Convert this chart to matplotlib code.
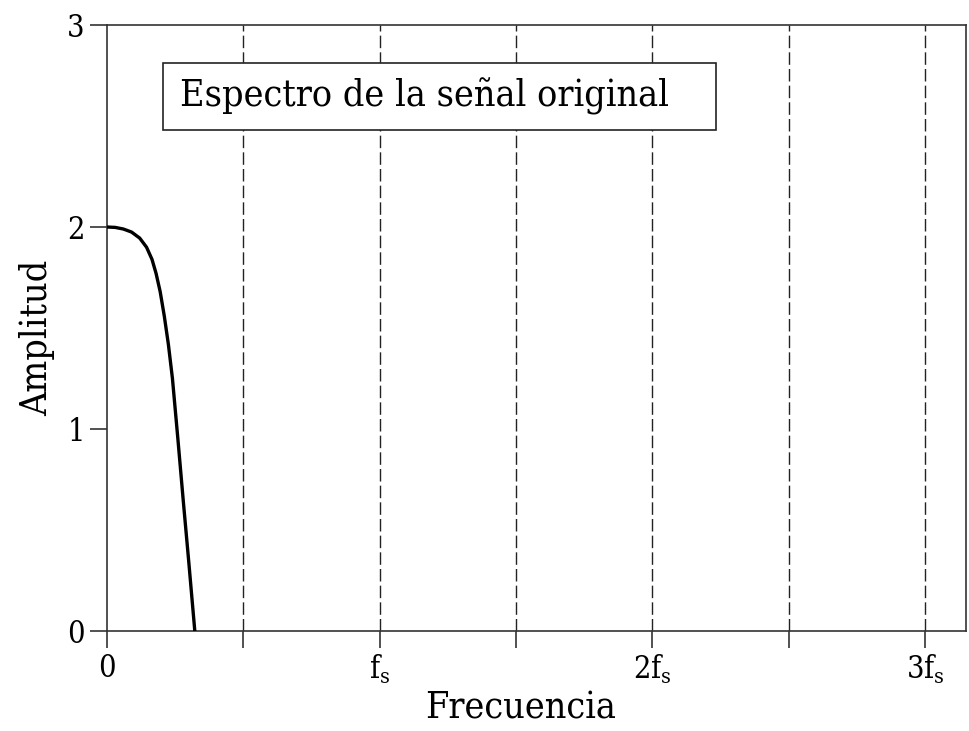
import matplotlib
matplotlib.use("Agg")
import matplotlib.pyplot as plt
from matplotlib.patches import Rectangle

# spectrum of the original signal (frequency in units of fs)
freq = [0.0, 0.03, 0.06, 0.09, 0.12, 0.145, 0.165, 0.18, 0.195, 0.21, 0.225, 0.24, 0.26, 0.28, 0.30, 0.322]
amp = [2.0, 1.998, 1.99, 1.975, 1.945, 1.9, 1.84, 1.77, 1.68, 1.56, 1.42, 1.25, 0.95, 0.64, 0.34, 0.0]

xticks = [0, 0.5, 1, 1.5, 2, 2.5, 3]
xtick_labels = ["0", "", r"$\mathrm{f_s}$", "", r"$\mathrm{2f_s}$", "", r"$\mathrm{3f_s}$"]
yticks = [0, 1, 2, 3]
dashed_at = [0.5, 1, 1.5, 2, 2.5, 3]

plt.rcParams["font.family"] = "DejaVu Serif"
plt.rcParams["font.stretch"] = "condensed"
plt.rcParams["mathtext.fontset"] = "custom"
plt.rcParams["mathtext.rm"] = "DejaVu Serif:stretch=condensed"

fig = plt.figure(figsize=(9.7, 7.31), dpi=100)
ax = fig.add_axes([0.1103, 0.1368, 0.9959 - 0.1103, 0.9658 - 0.1368])

for x in dashed_at:
    ax.axvline(x, color="#222222", linestyle=(0, (9, 3)), linewidth=1.0, zorder=1)

ax.plot(freq, amp, color="black", linewidth=2.4, zorder=3)

# label box
ax.add_patch(Rectangle((0.205, 2.48), 2.234 - 0.205, 2.812 - 2.48,
                       facecolor="white", edgecolor="#222222", linewidth=1.2, zorder=4))
ax.text(0.267, 2.645, "Espectro de la señal original", fontsize=27,
        va="center", ha="left", zorder=5)

ax.set_xlim(0, 3.15)
ax.set_ylim(0, 3)
ax.set_xticks(xticks)
ax.set_xticklabels(xtick_labels)
ax.set_yticks(yticks)
ax.tick_params(direction="out", length=12, width=1.2, color="#333333", labelsize=22, pad=4)
for s in ax.spines.values():
    s.set_color("#333333")
    s.set_linewidth(1.2)

ax.set_xlabel("Frecuencia", fontsize=27)
ax.xaxis.set_label_coords(0.481, -0.098)
ax.set_ylabel("Amplitud", fontsize=27)
ax.yaxis.set_label_coords(-0.06, 0.4835)

fig.savefig("out.png", dpi=100)
